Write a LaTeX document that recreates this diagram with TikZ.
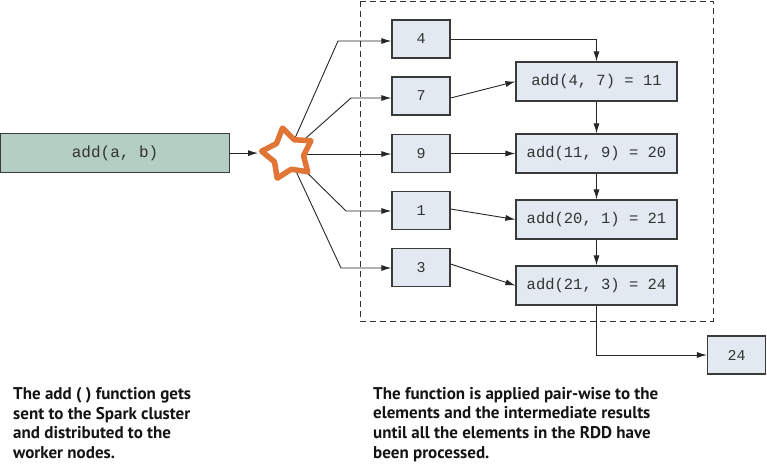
\documentclass[tikz,border=0pt]{standalone}
\usepackage{fontspec}
\setmainfont{PT Sans}
\setmonofont{Liberation Mono}
\usetikzlibrary{arrows.meta,shapes.geometric}
\definecolor{boxfill}{HTML}{E2E9F0}
\definecolor{greenfill}{HTML}{B5CEC3}
\definecolor{edge}{HTML}{3A3A3A}
\definecolor{txt}{HTML}{333333}
\definecolor{starc}{HTML}{E07535}
\begin{document}
\begin{tikzpicture}[x=1pt,y=-1pt,
  numbox/.style={draw=edge,line width=1.2pt,fill=boxfill,minimum width=58pt,minimum height=38pt,inner sep=0pt,font=\fontsize{15}{15}\ttfamily,text=txt},
  addbox/.style={draw=edge,line width=1.2pt,fill=boxfill,minimum width=161pt,minimum height=39pt,inner sep=0pt,font=\fontsize{15.5}{15.5}\ttfamily,text=txt},
  conn/.style={draw=black!85,line width=0.9pt,-{Latex[length=10pt,width=6pt]}},
  note/.style={align=left,anchor=north west,inner sep=0pt,text=black!92,font=\fontsize{17}{19.7}\selectfont\bfseries}
]
\useasboundingbox (0,0) rectangle (767,467);
% dashed cluster frame
\draw[dashed,line width=0.9pt,dash pattern=on 6pt off 4pt,black!80] (360,1) rectangle (713,321);
% source box
\node[draw=edge,line width=1.2pt,fill=greenfill,minimum width=229pt,minimum height=39pt,inner sep=0pt,anchor=north west,font=\fontsize{16}{16}\ttfamily,text=txt] (src) at (0,133) {add(a, b)};
% number boxes
\node[numbox] (n4) at (421,39) {4};
\node[numbox] (n7) at (421,96) {7};
\node[numbox] (n9) at (421,153.5) {9};
\node[numbox] (n1) at (421,210.5) {1};
\node[numbox] (n3) at (421,267.5) {3};
% add boxes
\node[addbox] (a1) at (596.5,81.5) {add(4, 7) = 11};
\node[addbox] (a2) at (596.5,153.5) {add(11, 9) = 20};
\node[addbox] (a3) at (596.5,219.5) {add(20, 1) = 21};
\node[addbox] (a4) at (596.5,285.5) {add(21, 3) = 24};
% result box
\node[numbox] (res) at (736.5,355) {24};
% fan-out corners
\coordinate (sc) at (288,154);
\coordinate (b4) at (338,41);
\coordinate (b7) at (351,98);
\coordinate (b1) at (346,211);
\coordinate (b3) at (341,268);
\draw[conn] (sc) -- (b4) -- (n4.west |- b4);
\draw[conn] (sc) -- (b7) -- (n7.west |- b7);
\draw[conn] (sc) -- (n9.west |- sc);
\draw[conn] (sc) -- (b1) -- (n1.west |- b1);
\draw[conn] (sc) -- (b3) -- (n3.west |- b3);
% star
\node[star,star points=5,star point ratio=1.7,minimum size=53pt,inner sep=0pt,rotate=12,draw=starc,line width=5.5pt,line join=round,fill=white] (star) at (sc) {};
\draw[conn] (src.east) -- (258,0 |- src.east);
% reduction chain
\draw[conn] (n4.east) -| (a1.north);
\draw[conn] ([yshift=-2pt]n7.east) -- (a1.west);
\draw[conn] (n9.east) -- (a2.west);
\draw[conn] ([yshift=1.5pt]n1.east) -- (a3.west);
\draw[conn] ([yshift=3.5pt]n3.east) -- (a4.west);
\draw[conn] (a1) -- (a2);
\draw[conn] (a2) -- (a3);
\draw[conn] (a3) -- (a4);
\draw[conn] (a4.south) |- (res.west);
% notes
\node[note] (t1) at (13,387) {The add ( ) function gets\\sent to the Spark cluster\\and distributed to the\\worker nodes.};
\node[note] (t2) at (373,387) {The function is applied pair-wise to the\\elements and the intermediate results\\until all the elements in the RDD have\\been processed.};
\end{tikzpicture}
\end{document}
